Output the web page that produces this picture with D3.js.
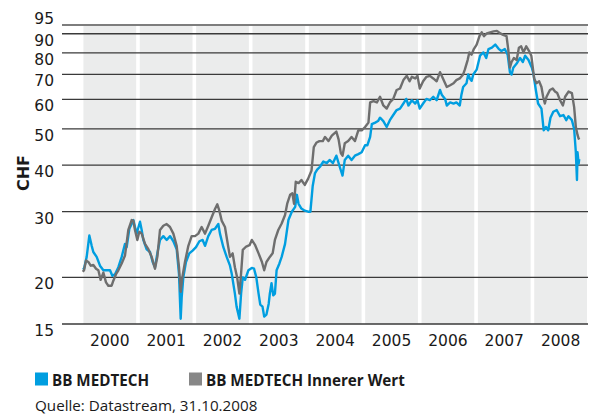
<!DOCTYPE html>
<html><head><meta charset="utf-8">
<script src="https://cdn.jsdelivr.net/npm/d3@7"></script>
<style>
html,body{margin:0;padding:0;background:#fff;}
svg{display:block;font-family:"DejaVu Sans",sans-serif;}
</style></head>
<body><svg id="c" width="595" height="416"></svg>
<script>
// ---- data ----
const years = [2000, 2001, 2002, 2003, 2004, 2005, 2006, 2007, 2008];
const yTicks = [15, 20, 30, 40, 50, 60, 70, 80, 90, 95];
const seriesNames = ["BB MEDTECH", "BB MEDTECH Innerer Wert"];
const sourceText = "Quelle: Datastream, 31.10.2008";

const blueT = [2000.02,2000.043,2000.09,2000.137,2000.179,2000.208,2000.267,2000.326,2000.386,2000.445,2000.504,2000.545,2000.593,2000.652,2000.711,2000.77,2000.80,2000.847,2000.888,2000.918,2000.947,2000.977,2001.036,2001.066,2001.095,2001.154,2001.214,2001.261,2001.302,2001.344,2001.391,2001.45,2001.51,2001.57,2001.628,2001.687,2001.728,2001.758,2001.776,2001.805,2001.852,2001.911,2001.97,2002.03,2002.09,2002.148,2002.19,2002.248,2002.307,2002.367,2002.426,2002.455,2002.515,2002.574,2002.633,2002.663,2002.72,2002.75,2002.8,2002.83,2002.86,2002.9,2002.96,2003.02,2003.06,2003.1,2003.14,2003.17,2003.21,2003.24,2003.28,2003.32,2003.34,2003.37,2003.4,2003.43,2003.46,2003.51,2003.55,2003.61,2003.67,2003.73,2003.79,2003.82,2003.85,2003.9,2003.96,2004.02,2004.06,2004.1,2004.14,2004.18,2004.23,2004.29,2004.35,2004.4,2004.46,2004.52,2004.58,2004.63,2004.67,2004.73,2004.79,2004.85,2004.91,2004.97,2005.03,2005.07,2005.12,2005.15,2005.21,2005.26,2005.295,2005.354,2005.413,2005.47,2005.53,2005.59,2005.65,2005.71,2005.76,2005.8,2005.86,2005.92,2005.96,2006.0,2006.06,2006.12,2006.18,2006.24,2006.3,2006.36,2006.39,2006.45,2006.48,2006.54,2006.6,2006.65,2006.71,2006.74,2006.77,2006.83,2006.86,2006.89,2006.92,2006.95,2007.01,2007.07,2007.13,2007.18,2007.22,2007.28,2007.34,2007.4,2007.45,2007.51,2007.56,2007.6,2007.63,2007.66,2007.72,2007.78,2007.83,2007.87,2007.93,2007.99,2008.02,2008.06,2008.1,2008.16,2008.2,2008.24,2008.28,2008.32,2008.37,2008.43,2008.49,2008.55,2008.6,2008.64,2008.7,2008.74,2008.77,2008.79,2008.8,2008.82,2008.83];
const blueV = [21.2,21.1,22.7,25.9,24.3,23.4,22.7,21.5,20.9,20.9,20.9,20.2,20.4,21.3,22.7,24.6,24.1,27.0,27.8,28.5,27.3,26.2,28.2,26.8,25.2,23.8,23.4,22.0,21.3,23.2,25.2,25.8,25.2,25.8,25.0,23.8,20.4,15.5,17.7,20.0,22.0,23.2,23.6,24.1,25.0,25.2,24.3,25.8,26.8,27.0,27.8,26.2,24.1,22.7,21.5,20.5,18.1,16.7,15.5,18.1,20.0,19.7,20.9,21.2,21.1,20.0,18.1,16.9,16.7,15.7,15.9,17.0,18.1,19.3,17.9,18.1,20.9,21.8,22.7,24.6,28.5,30.0,30.9,33.3,31.5,30.6,30.2,30.0,30.0,35.1,38.0,38.9,39.6,40.9,40.5,41.3,40.5,42.4,39.6,37.5,41.3,42.4,41.3,42.4,42.8,43.3,45.2,45.2,47.6,51.5,52.0,52.5,53.6,52.5,50.6,52.8,54.5,56.2,56.7,58.5,60.2,57.8,59.7,58.5,59.7,56.7,58.5,60.2,59.7,61.0,59.7,63.6,61.8,60.2,57.8,58.9,58.5,58.9,57.8,61.8,64.8,66.3,70.0,68.3,67.3,70.0,72.1,78.6,80.2,77.5,81.9,82.6,84.2,82.0,80.9,81.9,79.1,71.0,70.0,73.0,74.9,77.5,75.6,78.6,76.5,73.0,70.0,63.6,58.5,56.7,49.6,50.6,49.6,53.6,55.6,56.2,54.1,54.5,52.8,54.1,52.8,50.0,43.3,36.5,43.3,40.4,41.5];

const grayT = [2000.02,2000.043,2000.078,2000.12,2000.161,2000.208,2000.256,2000.297,2000.338,2000.386,2000.433,2000.474,2000.533,2000.563,2000.61,2000.652,2000.711,2000.77,2000.829,2000.888,2000.918,2000.947,2000.989,2001.024,2001.066,2001.125,2001.184,2001.243,2001.302,2001.344,2001.391,2001.45,2001.509,2001.568,2001.628,2001.687,2001.728,2001.758,2001.787,2001.834,2001.894,2001.953,2002.012,2002.071,2002.13,2002.19,2002.248,2002.308,2002.367,2002.408,2002.444,2002.485,2002.544,2002.603,2002.633,2002.68,2002.72,2002.76,2002.8,2002.83,2002.86,2002.92,2002.98,2003.02,2003.08,2003.14,2003.2,2003.24,2003.28,2003.34,2003.39,2003.43,2003.49,2003.55,2003.61,2003.65,2003.7,2003.74,2003.77,2003.8,2003.85,2003.9,2003.96,2004.02,2004.08,2004.12,2004.17,2004.22,2004.28,2004.32,2004.38,2004.44,2004.52,2004.56,2004.6,2004.63,2004.67,2004.73,2004.79,2004.85,2004.91,2004.97,2005.03,2005.09,2005.12,2005.18,2005.24,2005.295,2005.354,2005.413,2005.47,2005.53,2005.59,2005.65,2005.71,2005.77,2005.82,2005.86,2005.92,2005.96,2006.0,2006.06,2006.12,2006.18,2006.24,2006.3,2006.36,2006.39,2006.45,2006.48,2006.54,2006.6,2006.65,2006.71,2006.77,2006.8,2006.85,2006.88,2006.92,2006.96,2007.01,2007.06,2007.1,2007.14,2007.19,2007.25,2007.31,2007.37,2007.43,2007.48,2007.54,2007.57,2007.6,2007.63,2007.67,2007.72,2007.76,2007.8,2007.84,2007.89,2007.94,2007.98,2008.03,2008.07,2008.12,2008.16,2008.19,2008.22,2008.25,2008.31,2008.36,2008.4,2008.44,2008.49,2008.54,2008.58,2008.64,2008.7,2008.74,2008.77,2008.8,2008.82,2008.83];
const grayV = [20.7,20.9,22.2,22.0,21.5,21.6,21.1,20.9,19.7,20.6,19.4,19.0,19.0,19.6,20.4,20.9,21.8,22.9,26.8,28.5,28.4,26.8,25.2,26.5,26.2,24.6,23.8,22.7,21.1,22.7,26.8,27.5,27.8,27.3,26.2,24.3,21.3,18.3,20.0,22.0,24.3,25.8,25.8,26.2,27.3,26.2,27.5,29.0,30.5,31.4,30.2,28.4,27.3,24.1,22.7,23.2,21.3,20.0,18.1,20.5,23.7,24.2,24.4,25.2,24.4,23.2,22.0,20.9,22.0,22.7,23.2,25.2,26.8,27.9,29.4,31.6,33.3,33.6,31.5,36.1,35.8,36.5,35.4,36.8,38.7,44.7,46.0,46.4,46.4,47.6,46.4,48.0,49.2,46.9,43.1,42.4,45.8,46.4,47.6,46.4,49.6,49.6,50.6,52.0,58.9,59.4,58.9,61.0,57.8,56.7,58.9,60.2,63.6,64.2,67.6,69.4,67.1,69.0,68.3,69.4,64.2,67.1,69.0,69.4,68.3,67.1,71.0,69.4,66.3,64.8,65.5,66.3,67.6,68.3,70.0,72.1,76.5,80.2,79.1,81.9,84.2,88.7,90.8,88.7,90.2,90.8,91.3,91.6,90.2,89.4,88.7,81.9,73.0,75.6,77.5,76.5,82.6,83.3,80.2,83.3,80.9,78.6,68.3,66.3,67.1,64.8,61.0,58.5,61.0,63.6,64.2,63.0,62.4,59.7,57.8,61.0,63.0,62.4,57.2,50.6,48.2,47.1,47.4];

// ---- chart ----
const svg = d3.select("#c");
const x = d3.scaleLinear().domain([1999.652, 2009.0]).range([62, 588.8]);
const y = d3.scaleLog().domain([15, 95]).range([324, 25]);
const blue = "#009ee0", grey = "#6e6e6e", txt = "#1a1a1a";
const sans2 = "'Open Sans', 'Noto Sans', sans-serif";

// year bands
svg.append("g").selectAll("rect").data(years).join("rect")
  .attr("x", d => x(d) + 1.8)
  .attr("y", y(95))
  .attr("width", d => x(d + 1) - x(d) - 3.6)
  .attr("height", y(15) - y(95))
  .attr("fill", "#ebecec");

// gridlines
svg.append("g").selectAll("line").data(yTicks).join("line")
  .attr("x1", 62).attr("x2", 588)
  .attr("y1", d => y(d)).attr("y2", d => y(d))
  .attr("stroke", d => d === 95 ? "#7d7d7d" : "#3a3a3a")
  .attr("stroke-width", d => d === 95 ? 2.2 : 1.3);

// y tick labels
svg.append("g").selectAll("text").data(yTicks).join("text")
  .attr("x", 54)
  .attr("y", d => d === 95 ? y(d) - 1 : y(d) + 12)
  .attr("text-anchor", "end")
  .attr("font-size", 15.5)
  .attr("fill", txt)
  .text(d => d);

// axis title
svg.append("text")
  .attr("transform", "translate(29,173) rotate(-90)")
  .attr("text-anchor", "middle")
  .attr("font-size", 16).attr("font-weight", "bold")
  .attr("fill", txt).text("CHF");

// year labels
svg.append("g").selectAll("text").data(years).join("text")
  .attr("x", d => x(d + 0.5))
  .attr("y", 345.5)
  .attr("text-anchor", "middle")
  .attr("font-size", 15.5)
  .attr("fill", txt)
  .text(d => d);

// lines
const line = d3.line().x(d => x(d[0])).y(d => y(d[1]));
const bluePts = blueT.map((t, i) => [t, blueV[i]]);
const grayPts = grayT.map((t, i) => [t, grayV[i]]);
svg.append("path").attr("d", line(bluePts)).attr("fill", "none")
  .attr("stroke", blue).attr("stroke-width", 2.4).attr("stroke-linejoin", "round");
svg.append("path").attr("d", line(grayPts)).attr("fill", "none")
  .attr("stroke", grey).attr("stroke-width", 2.4).attr("stroke-linejoin", "round");

// legend
const leg = [{name: seriesNames[0], color: blue, x: 35}, {name: seriesNames[1], color: "#878787", x: 189}];
const lg = svg.append("g");
lg.selectAll("rect").data(leg).join("rect")
  .attr("x", d => d.x).attr("y", 372.5).attr("width", 13).attr("height", 13)
  .attr("fill", d => d.color);
lg.selectAll("text").data(leg).join("text")
  .attr("x", d => d.x + 17).attr("y", 386)
  .attr("font-family", sans2)
  .attr("font-size", 15.2).attr("font-weight", "bold")
  .attr("fill", txt).text(d => d.name);

svg.append("text").attr("x", 35).attr("y", 411)
  .attr("font-family", sans2)
  .attr("font-size", 15.2).attr("fill", txt).text(sourceText);
</script></body></html>
